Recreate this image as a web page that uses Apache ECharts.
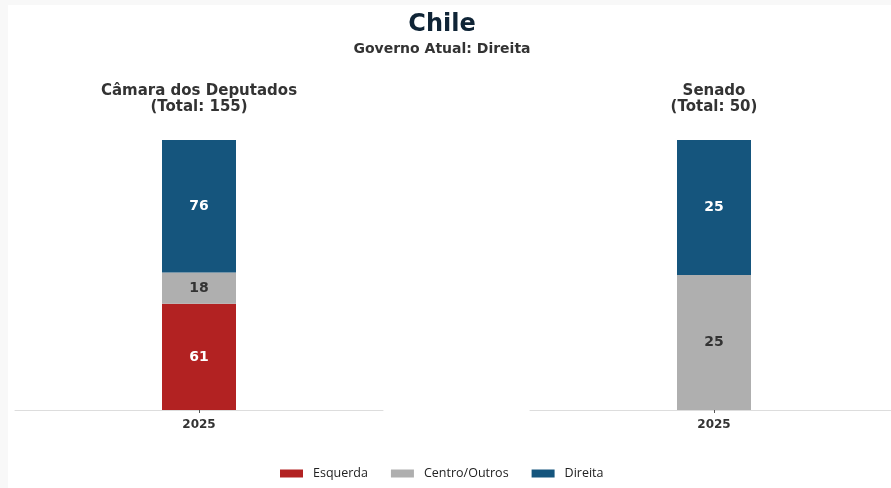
<!DOCTYPE html>
<html>
<head>
<meta charset="utf-8">
<script src="https://cdn.jsdelivr.net/npm/echarts@6/dist/echarts.min.js"></script>
<style>
  html, body { margin: 0; padding: 0; background: #f8f8f8; }
  #chart { width: 891px; height: 488px; }
</style>
</head>
<body>
<div id="chart"></div>
<script>
// Seat composition by political bloc, one stacked bar per chamber
const years = ['2025'];
const groups = ['Esquerda', 'Centro/Outros', 'Direita'];
const colors = ['#b22222', '#afafaf', '#15557d'];
const labelColors = ['#ffffff', '#333333', '#ffffff'];

const camaraSeats = [61, 18, 76];
const senadoSeats = [0, 25, 25];

const camaraTotal = 155;
const senadoTotal = 50;

const titleFont = 'DejaVu Sans';

function makeSeries(values, axisIndex) {
  return groups.map((name, i) => ({
    name: name,
    type: 'bar',
    stack: 'seats' + axisIndex,
    xAxisIndex: axisIndex,
    yAxisIndex: axisIndex,
    barWidth: 74,
    itemStyle: { color: colors[i] },
    label: {
      show: true,
      position: 'inside',
      color: labelColors[i],
      fontFamily: titleFont,
      fontWeight: 'bold',
      fontSize: 14,
      formatter: p => (p.value > 0 ? String(p.value) : '')
    },
    emphasis: { disabled: true },
    data: [values[i]]
  }));
}

function xAxisFor(gridIndex, showLine) {
  return {
    type: 'category',
    gridIndex: gridIndex,
    data: years,
    axisLine: { show: showLine, lineStyle: { color: '#dddddd', width: 1 } },
    axisTick: { show: true, alignWithLabel: true, length: 3, lineStyle: { color: '#555' } },
    axisLabel: { color: '#333', fontFamily: titleFont, fontWeight: 'bold', fontSize: 12, margin: 9 }
  };
}

function yAxisFor(gridIndex, max) {
  return {
    type: 'value',
    gridIndex: gridIndex,
    min: 0,
    max: max,
    show: false
  };
}

const chart = echarts.init(document.getElementById('chart'), null, { renderer: 'canvas' });

chart.setOption({
  animation: false,
  backgroundColor: '#f8f8f8',
  graphic: [{
    type: 'rect',
    z: -10,
    silent: true,
    shape: { x: 8, y: 5, width: 883, height: 483 },
    style: { fill: '#ffffff' }
  }],
  title: [
    {
      text: 'Chile', left: 437, top: 8, textAlign: 'center',
      textStyle: { fontFamily: titleFont, fontWeight: 'bold', fontSize: 24, color: '#0f2436' }
    },
    {
      text: 'Governo Atual: Direita', left: 437, top: 37, textAlign: 'center',
      textStyle: { fontFamily: titleFont, fontWeight: 'bold', fontSize: 14, color: '#333333' }
    },
    {
      text: 'Câmara dos Deputados\n(Total: ' + camaraTotal + ')', left: 194, top: 78, textAlign: 'center',
      textStyle: { fontFamily: titleFont, fontWeight: 'bold', fontSize: 15, lineHeight: 16, color: '#333333', align: 'center' }
    },
    {
      text: 'Senado\n(Total: ' + senadoTotal + ')', left: 709, top: 78, textAlign: 'center',
      textStyle: { fontFamily: titleFont, fontWeight: 'bold', fontSize: 15, lineHeight: 16, color: '#333333', align: 'center' }
    }
  ],
  legend: {
    data: groups,
    left: 275,
    top: 462,
    icon: 'rect',
    itemWidth: 23,
    itemHeight: 8,
    itemGap: 23,
    textStyle: { fontFamily: 'Open Sans', fontSize: 12.5, color: '#222', padding: [0, 0, 0, 5] }
  },
  grid: [
    { left: 15, top: 140, width: 368, height: 270 },
    { left: 537, top: 140, width: 354, height: 270 },
    { left: 530, top: 140, width: 361, height: 270 }
  ],
  xAxis: [
    xAxisFor(0, true),
    xAxisFor(1, false),
    // baseline spanning the full Senado panel
    {
      type: 'category', gridIndex: 2, data: years,
      axisLine: { show: true, lineStyle: { color: '#dddddd', width: 1 } },
      axisTick: { show: false }, axisLabel: { show: false }
    }
  ],
  yAxis: [yAxisFor(0, camaraTotal), yAxisFor(1, senadoTotal), yAxisFor(2, senadoTotal)],
  series: makeSeries(camaraSeats, 0).concat(makeSeries(senadoSeats, 1))
});
</script>
</body>
</html>
